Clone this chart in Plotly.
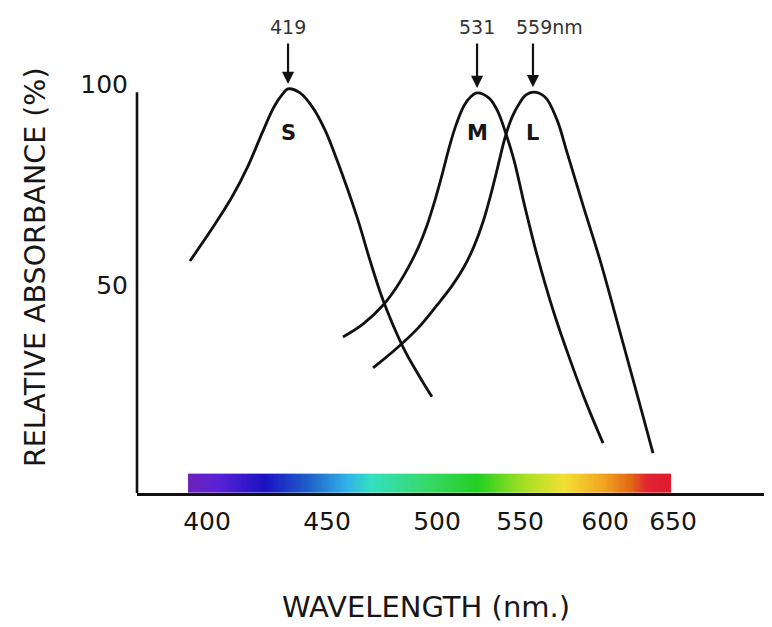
import numpy as np
import plotly.graph_objects as go

# ---- data (x in the chart's wavelength units, y in %) ----
s_wavelength = [363.3, 375.9, 387.4, 396.6, 404.7, 411.5, 416.1, 419.6, 426.5, 433.9, 440.8, 447.7,
                459.2, 466.6, 474.1, 485.6, 494.2, 502.2]
s_absorbance = [56.1, 64.1, 72.0, 79.7, 87.9, 94.4, 97.4, 98.9, 97.9, 94.2, 88.7, 81.2,
                67.0, 56.3, 46.4, 34.7, 28.0, 22.3]

m_wavelength = [451.1, 462.6, 474.1, 481.6, 488.5, 494.2, 499.4, 504.0, 508.0, 512.0, 516.0, 520.6,
                524.6, 528.1, 535.0, 540.1, 544.7, 549.3, 555.6, 562.5, 571.7, 581.5, 591.2, 600.4]
m_absorbance = [37.2, 40.4, 45.1, 49.4, 54.4, 59.3, 65.0, 71.3, 77.5, 84.2, 89.9, 94.7,
                97.0, 97.9, 96.6, 93.2, 87.7, 81.2, 69.5, 57.6, 43.9, 31.5, 20.3, 10.8]

l_wavelength = [468.4, 481.0, 494.2, 505.1, 513.7, 520.6, 526.4, 531.5, 536.1, 540.1, 544.1, 548.2,
                552.8, 556.2, 560.2, 567.1, 574.0, 579.7, 588.9, 598.7, 606.7, 614.2, 621.6, 629.1]
l_absorbance = [29.5, 34.0, 39.4, 45.1, 49.9, 54.6, 59.8, 65.8, 72.8, 79.7, 86.7, 91.9,
                95.6, 97.4, 98.1, 96.9, 91.2, 83.2, 70.0, 56.3, 43.9, 32.0, 20.3, 8.3]

cone_names = ["S", "M", "L"]
peak_labels = ["419", "531", "559nm"]

x_tick_positions = [373.1, 442.0, 505.1, 552.8, 601.6, 640.6]
x_tick_labels = ["400", "450", "500", "550", "600", "650"]
y_tick_values = [50, 100]
y_tick_labels = ["50", "100"]

spectrum_nm = [362.2, 378.8, 406.4, 431.0, 453.4, 467.2, 500.5, 528.1, 555.6, 578.0, 600.4, 617.1, 625.1, 638.8]
spectrum_colors = ["#6c22b8", "#5a22d6", "#1a12c2", "#1f5fc8", "#32b2ea", "#34e0c0", "#36d866",
                   "#22cf22", "#a8e022", "#f2e032", "#f2a422", "#e06414", "#e22432", "#e01a30"]

FONT = "DejaVu Sans"
INK = "#161616"

x_range = [332.9, 697.4]
y_range = [-1.62, 106.1]
arrow_tail_y = 110.6      # arrows start at this height (above the plot top)
y_axis_top = 98.1         # the drawn y-axis line stops here

fig = go.Figure()

# spectrum bar along the axis
lo, hi = spectrum_nm[0], spectrum_nm[-1]
edges = np.arange(lo, hi + 0.5, 1.0)
centers = (edges[:-1] + edges[1:]) / 2
cscale = [[(w - lo) / (hi - lo), c] for w, c in zip(spectrum_nm, spectrum_colors)]
fig.add_trace(go.Heatmap(x=edges, y=[-1.5, 3.2], z=[centers], colorscale=cscale,
                         zmin=lo, zmax=hi, showscale=False, hoverinfo="skip"))

curves = [(s_wavelength, s_absorbance), (m_wavelength, m_absorbance), (l_wavelength, l_absorbance)]
for (xs, ys), name in zip(curves, cone_names):
    fig.add_trace(go.Scatter(x=xs, y=ys, mode="lines", name=name,
                             line=dict(color="#111111", width=2.8, shape="spline", smoothing=1.0),
                             showlegend=False))

annotations = []
for (xs, ys), name, lab in zip(curves, cone_names, peak_labels):
    i = int(np.argmax(ys))
    px, py = xs[i], ys[i]
    # arrow pointing down to the peak
    annotations.append(dict(x=px, y=py, xref="x", yref="y", text="", showarrow=True,
                            axref="x", ax=px, ayref="y", ay=arrow_tail_y,
                            arrowhead=2, arrowsize=1.1, arrowwidth=2.2,
                            arrowcolor="#111111", standoff=5))
    # peak wavelength label
    if lab.endswith("nm"):
        annotations.append(dict(x=px, xref="x", y=1, yref="paper", text=lab, showarrow=False,
                                xanchor="left", yanchor="middle", xshift=-19, yshift=33,
                                font=dict(family=FONT, size=19, color="#333333")))
    else:
        annotations.append(dict(x=px, xref="x", y=1, yref="paper", text=lab, showarrow=False,
                                xanchor="center", yanchor="middle", yshift=33,
                                font=dict(family=FONT, size=19, color="#333333")))
    # cone name under the peak
    annotations.append(dict(x=px, xref="x", y=1, yref="paper", text=name, showarrow=False,
                            xanchor="center", yanchor="middle", yshift=-73,
                            font=dict(family=FONT, size=21, color=INK, weight="bold")))

# axis titles
annotations.append(dict(text="WAVELENGTH (nm.)", xref="paper", yref="paper", x=(426 - 137) / 635,
                        y=(493 - 607) / 433, xanchor="center", yanchor="middle", showarrow=False,
                        font=dict(family=FONT, size=29, color=INK)))
annotations.append(dict(text="RELATIVE ABSORBANCE (%)", xref="paper", yref="paper", x=0, xshift=35 - 137,
                        y=(493 - 267) / 433, xanchor="center", yanchor="middle", textangle=-90,
                        showarrow=False, font=dict(family=FONT, size=28.5, color=INK)))

# the page body adds an 8px offset, so the figure is drawn 8px smaller and margins are shifted
fig.update_layout(
    width=764, height=619,
    margin=dict(l=129, r=0, t=52, b=134),
    paper_bgcolor="white", plot_bgcolor="white",
    annotations=annotations,
    shapes=[dict(type="line", xref="paper", x0=0, x1=0, yref="y", y0=y_range[0], y1=y_axis_top,
                 line=dict(color="#111111", width=2.6))],
    xaxis=dict(range=x_range, showgrid=False, zeroline=False, showline=True, linecolor="#111111",
               linewidth=3, tickvals=x_tick_positions, ticktext=x_tick_labels, ticks="",
               ticklabelstandoff=4, tickfont=dict(family=FONT, size=25, color=INK)),
    yaxis=dict(range=y_range, showgrid=False, zeroline=False, showline=False,
               tickvals=y_tick_values, ticktext=y_tick_labels, ticks="",
               ticklabelstandoff=8, tickfont=dict(family=FONT, size=25, color=INK)),
)

fig.write_html("out.html")
